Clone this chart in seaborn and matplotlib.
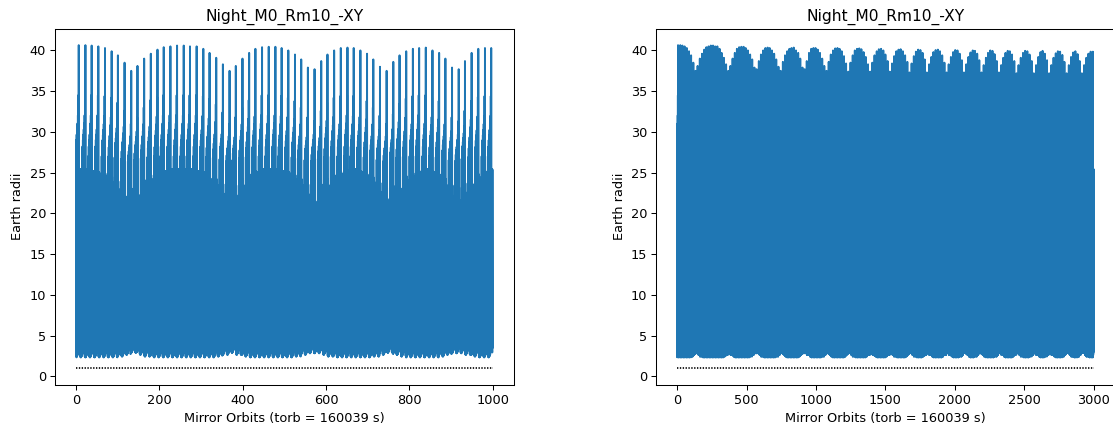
import numpy as np
import pandas as pd
import matplotlib
matplotlib.use("Agg")
import matplotlib.pyplot as plt
import seaborn as sns

# ---------------- text ----------------
title = "Night_M0_Rm10_-XY"
xlabel = "Mirror Orbits (torb = 160039 s)"
ylabel = "Earth radii"

# ---------------- data ----------------
n_orbits_left = 1000
n_orbits_right = 3000
earth_radius = 1.0
start_radius = 10.8
band_top = 25.4                 # usual apogee (Earth radii)
first_spike_orbit = 6           # first large excursion
spike_period = 15.72            # orbits between large excursions

# apogee of each large excursion (one per ~15.7 orbits)
tall_peaks = [
    40.65, 40.65, 40.6, 40.5, 40.3, 39.9, 39.4, 38.5, 37.5, 38.1,
    39.0, 39.6, 40.1, 40.4, 40.5, 40.6, 40.6, 40.5, 40.5, 40.2,
    39.7, 39.1, 38.3, 37.5, 38.1, 39.0, 39.7, 40.2, 40.4, 40.45,
    40.45, 40.3, 40.0, 39.5, 38.9, 37.9, 37.7, 38.7, 39.5, 40.0,
    40.3, 40.35, 40.3, 40.0, 39.6, 38.9, 38.0, 37.5, 38.6, 39.4,
    39.9, 40.2, 40.3, 40.35, 40.0, 39.7, 39.0, 37.9, 37.7, 38.7,
    39.7, 40.2, 40.3, 40.3,
    40.1, 39.7, 39.0, 38.1, 37.5,
    38.6, 39.5, 40.0, 40.25, 40.3, 40.2, 39.9, 39.3, 38.4, 37.4,
    38.5, 39.4, 40.0, 40.2, 40.25, 40.15, 39.8, 39.2, 38.3, 37.4,
    38.5, 39.4, 39.9, 40.15, 40.2, 40.0, 39.5, 38.7, 37.4,
    38.4, 39.3, 39.9, 40.1, 40.15, 39.9, 39.4, 38.6, 37.3,
    38.4, 39.3, 39.85, 40.1, 40.05, 39.7, 38.9, 37.3,
    38.3, 39.2, 39.8, 40.05, 40.1, 39.9, 39.4, 38.5, 37.3,
    38.3, 39.2, 39.8, 40.05, 40.0, 39.6, 38.8, 37.3,
    38.3, 39.2, 39.75, 40.0, 39.95, 39.6, 38.8, 37.3,
    38.2, 39.1, 39.7, 40.0, 39.95, 39.55, 38.7, 37.3,
    38.2, 39.1, 39.7, 39.95, 39.9, 39.5, 38.7, 37.2,
    38.2, 39.1, 39.7, 39.95, 39.9, 39.5, 38.7, 37.2,
    38.2, 39.2, 39.8, 39.95, 39.6, 38.8, 37.2,
    38.2, 39.1, 39.65, 39.9, 39.85, 39.45, 38.6, 37.2,
    38.2, 39.2, 39.75, 39.9, 39.55, 38.7, 37.2,
    38.2, 39.1, 39.6, 39.85, 39.85,
]

# apogee of the orbit just before each large excursion
companion_peaks = [
    34.5, 34.5, 34.5, 34.5, 34.4, 34.2, 33.6, 32.6, 31.0, 31.8,
    33.0, 33.9, 34.3, 34.5, 34.5, 34.5, 34.5, 34.5, 34.5, 34.4,
    34.0, 33.4, 32.4, 31.0, 31.8, 33.0, 33.9, 34.3, 34.5, 34.5,
    34.5, 34.4, 34.2, 33.8, 33.0, 31.8, 31.3, 32.6, 33.6, 34.2,
    34.4, 34.5, 34.4, 34.2, 33.8, 33.0, 32.0, 31.0, 32.2, 33.4,
    34.1, 34.4, 34.5, 34.5, 34.2, 33.8, 33.0, 31.8, 31.3, 32.6,
    33.8, 34.3, 34.4, 34.4,
]
companion_typical = 34.4

# lowest apogee in the middle of each month
notch_depths = [
    25.4, 25.4, 25.2, 24.8, 24.4, 23.6, 22.5, 21.3, 20.7, 21.5,
    22.8, 24.0, 24.8, 25.2, 25.4, 25.4, 25.4, 25.4, 25.2, 24.8,
    24.0, 23.0, 21.8, 20.5, 21.5, 23.0, 24.2, 25.0, 25.4, 25.4,
    25.4, 25.2, 24.8, 24.0, 23.0, 21.7, 20.5, 21.7, 23.0, 24.0,
    24.8, 25.2, 25.4, 25.0, 24.2, 23.4, 22.1, 20.9, 21.3, 22.5,
    23.7, 24.5, 25.0, 25.4, 25.0, 24.2, 23.0, 21.5, 21.0, 22.0,
    23.2, 24.2, 25.0, 25.4,
]

# lowest perigee in each month
perigee_floor = [
    2.35, 2.35, 2.35, 2.35, 2.35, 2.35, 2.45, 2.65, 2.9, 2.65,
    2.45, 2.35, 2.35, 2.35, 2.35, 2.35, 2.35, 2.35, 2.35, 2.35,
    2.35, 2.45, 2.65, 2.9, 2.65, 2.45, 2.35, 2.35, 2.35, 2.35,
    2.35, 2.35, 2.35, 2.45, 2.65, 2.85, 2.85, 2.65, 2.45, 2.35,
    2.35, 2.35, 2.35, 2.35, 2.35, 2.45, 2.65, 2.9, 2.65, 2.45,
    2.35, 2.35, 2.35, 2.35, 2.35, 2.45, 2.65, 2.85, 2.85, 2.65,
    2.45, 2.35, 2.35, 2.35, 2.35, 2.35, 2.45, 2.65, 2.9, 2.65,
    2.45, 2.35, 2.35, 2.35, 2.35, 2.35, 2.45, 2.65, 2.9, 2.65,
    2.45, 2.35, 2.35, 2.35, 2.35, 2.35, 2.45, 2.65, 2.9, 2.65,
    2.45, 2.35, 2.35, 2.35, 2.35, 2.45, 2.65, 2.9, 2.65, 2.45,
    2.35, 2.35, 2.35, 2.35, 2.45, 2.65, 2.9, 2.65, 2.45, 2.35,
    2.35, 2.35, 2.45, 2.65, 2.9, 2.65, 2.45, 2.35, 2.35, 2.35,
    2.35, 2.45, 2.65, 2.9, 2.65, 2.45, 2.35, 2.35, 2.35, 2.45,
    2.65, 2.9, 2.65, 2.45, 2.35, 2.35, 2.45, 2.65, 2.9, 2.65,
    2.45, 2.35, 2.35, 2.35, 2.35, 2.45, 2.65, 2.9, 2.65, 2.45,
    2.35, 2.35, 2.35, 2.45, 2.65, 2.9, 2.65, 2.45, 2.35, 2.35,
    2.35, 2.45, 2.65, 2.9, 2.65, 2.45, 2.35, 2.35, 2.45, 2.65,
    2.9, 2.65, 2.45, 2.35, 2.35, 2.35, 2.45, 2.65, 2.9, 2.65,
    2.45, 2.35, 2.35, 2.45, 2.65, 2.9, 2.65, 2.45, 2.35, 2.35,
    2.35,
]

# extra height of the sampled perigee (repeats every 11 orbits)
perigee_miss = [0.0, 0.0, 0.1, 0.2, 0.35, 0.6, 1.0, 1.5, 1.5, 0.6, 0.1]
# rise of the apogee over the orbits before an excursion (fraction)
ramp_shape = [1.0, 0.73, 0.62, 0.54, 0.47, 0.40, 0.31, 0.18]
# shape of the mid-month dip (fraction), after the excursion
notch_shape = {1: 0.5, 2: 0.85, 3: 1.0, 4: 1.0, 5: 1.0, 6: 1.0, 7: 0.8}


def build_series(n_orbits):
    n_months = len(tall_peaks)
    spikes = [int(round(first_spike_orbit + spike_period * k)) for k in range(n_months)]
    xs = [0.0]
    ys = [start_radius]
    k_prev = -1
    for i in range(n_orbits):
        while k_prev + 1 < n_months and spikes[k_prev + 1] <= i:
            k_prev += 1
        k_next = k_prev + 1 if k_prev + 1 < n_months else None
        kk = max(k_prev, 0)
        if i > 0:
            xs.append(float(i))
            ys.append(perigee_floor[kk] + perigee_miss[i % len(perigee_miss)])
        if k_prev >= 0 and spikes[k_prev] == i:
            apo = tall_peaks[k_prev]
        elif k_next is not None and 1 <= spikes[k_next] - i <= len(ramp_shape):
            jb = spikes[k_next] - i
            comp = companion_peaks[k_next] if k_next < len(companion_peaks) else companion_typical
            apo = band_top + (comp - band_top) * ramp_shape[jb - 1]
        else:
            apo = band_top
            if k_prev >= 0:
                ja = i - spikes[k_prev]
                depth = notch_depths[k_prev] if k_prev < len(notch_depths) else band_top
                apo = band_top - (band_top - depth) * notch_shape.get(ja, 0.0)
        xs.append(i + 0.5)
        ys.append(apo)
    xs.append(float(n_orbits))
    ys.append(perigee_floor[-1] + 1.2)
    return pd.DataFrame({"orbit": xs, "radius": ys})


DPI = 93
W, H = 1113.0, 429.0
fig = plt.figure(figsize=(W / DPI, H / DPI), dpi=DPI)
ax_left = fig.add_axes([55.2 / W, 1 - 384.5 / H, (513.5 - 55.2) / W, (384.5 - 29.0) / H])
ax_right = fig.add_axes([656.3 / W, 1 - 384.5 / H, (1114.6 - 656.3) / W, (384.5 - 29.0) / H])

line_color = "#1f77b4"
for ax, n in ((ax_left, n_orbits_left), (ax_right, n_orbits_right)):
    df = build_series(n)
    sns.lineplot(data=df, x="orbit", y="radius", ax=ax, estimator=None, sort=False,
                 color=line_color, linewidth=1.5)
    ref = pd.DataFrame({"orbit": [0, n], "radius": [earth_radius, earth_radius]})
    sns.lineplot(data=ref, x="orbit", y="radius", ax=ax, estimator=None, sort=False,
                 color="black", linestyle=(0, (0.8, 0.9)), linewidth=1.3)
    ax.set_title(title, fontsize=12)
    ax.set_xlabel(xlabel, fontsize=10)
    ax.set_ylabel(ylabel, fontsize=10)

fig.savefig("out.png", dpi=DPI)
